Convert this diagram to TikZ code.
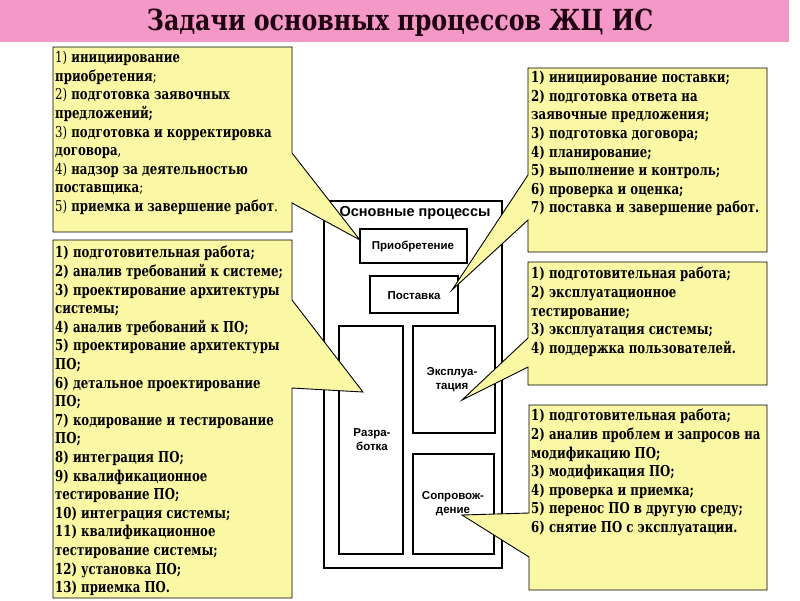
\documentclass[tikz,border=0pt]{standalone}
\usepackage{fontspec}
\setmainfont{DejaVu Serif Condensed}
\newfontfamily\arialf{Liberation Sans}
\newfontfamily\timesb{DejaVu Serif Condensed}[UprightFont={* Bold}, FakeStretch=0.87]
\newfontfamily\timesr{DejaVu Serif Condensed}[FakeStretch=0.87]
\newfontfamily\titlef{DejaVu Serif Condensed}[UprightFont={* Bold}, FakeStretch=0.91]
\definecolor{pinkbar}{RGB}{244,152,200}
\definecolor{yellowc}{RGB}{250,248,165}
\definecolor{titlecol}{RGB}{30,0,16}
\tikzset{
  callout/.style={fill=yellowc, draw=black, line width=0.9pt, line join=miter},
  listtext/.style={anchor=north west, inner sep=0pt, align=left,
     font=\timesb\fontsize{15}{18.6}\selectfont},
  frameline/.style={draw=black, line width=2.6pt},
  procbox/.style={draw=black, line width=2pt, fill=white},
  proclabel/.style={font=\arialf\bfseries\fontsize{11.5}{14}\selectfont, align=center, inner sep=0pt}
}
\begin{document}
\begin{tikzpicture}[x=1pt,y=-1pt]
\useasboundingbox (0,0) rectangle (800,600);
\fill[white] (0,0) rectangle (800,600);
% title
\fill[pinkbar] (0,0) rectangle (789,42);
\node[font=\titlef\fontsize{29}{29}\selectfont, text=titlecol, inner sep=0pt] (title) at (400,23) {Задачи основных процессов ЖЦ ИС};

% central diagram
\draw[frameline, fill=white] (324,201) rectangle (502,568);
\node[font=\arialf\bfseries\fontsize{14.5}{16}\selectfont, inner sep=0pt] (mainlbl) at (415,213) {Основные процессы};
\draw[procbox] (360,229) rectangle (467,263);
\node[proclabel] (acq) at (413,246) {Приобретение};
\draw[procbox] (370,276) rectangle (458,313);
\node[proclabel] (sup) at (414,296) {Поставка};
\draw[procbox] (339,326) rectangle (403,554);
\node[proclabel] (dev) at (372,440) {Разра-\\ботка};
\draw[procbox] (413,326) rectangle (495,433);
\node[proclabel] (ops) at (452,380) {Эксплуа-\\тация};
\draw[procbox] (413,454) rectangle (494,554);
\node[proclabel] (mnt) at (453,504) {Сопровож-\\дение};

% tip coordinates
\coordinate (tipA) at (360,240);
\coordinate (tipB) at (452,290);
\coordinate (tipC) at (363,392);
\coordinate (tipD) at (462,400);
\coordinate (tipE) at (462,515);

% callouts
\draw[callout] (53,47) -- (292,47) -- (292,153) -- (tipA) -- (292,203) -- (292,232) -- (53,232) -- cycle;
\draw[callout] (528,68) -- (767,68) -- (767,252) -- (528,252) -- (528,220) -- (tipB) -- (528,175) -- cycle;
\draw[callout] (53,240) -- (292,240) -- (292,300) -- (tipC) -- (292,388) -- (292,598) -- (53,598) -- cycle;
\draw[callout] (528,262) -- (767,262) -- (767,385) -- (528,385) -- (528,367) -- (tipD) -- (528,338) -- cycle;
\draw[callout] (529,405) -- (767,405) -- (767,590) -- (529,590) -- (529,557) -- (tipE) -- (529,513) -- cycle;

% texts
\node[listtext] (t1) at (55,51) {{\timesr 1)} инициирование\\приобретения{\timesr ;}\\{\timesr 2)} подготовка заявочных\\предложений;\\{\timesr 3)} подготовка и корректировка\\договора{\timesr ,}\\{\timesr 4)} надзор за деятельностью\\поставщика{\timesr ;}\\{\timesr 5)} приемка и завершение работ{\timesr .}};
\node[listtext] (t2) at (531,71) {1) инициирование поставки;\\2) подготовка ответа на\\заявочные предложения;\\3) подготовка договора;\\4) планирование;\\5) выполнение и контроль;\\6) проверка и оценка;\\7) поставка и завершение работ.};
\node[listtext] (t3) at (55,246) {1) подготовительная работа;\\2) аналив требований к системе;\\3) проектирование архитектуры\\системы;\\4) аналив требований к ПО;\\5) проектирование архитектуры\\ПО;\\6) детальное проектирование\\ПО;\\7) кодирование и тестирование\\ПО;\\8) интеграция ПО;\\9) квалификационное\\тестирование ПО;\\10) интеграция системы;\\11) квалификационное\\тестирование системы;\\12) установка ПО;\\13) приемка ПО.};
\node[listtext] (t4) at (531,267) {1) подготовительная работа;\\2) эксплуатационное\\тестирование;\\3) эксплуатация системы;\\4) поддержка пользователей.};
\node[listtext] (t5) at (531,409) {1) подготовительная работа;\\2) аналив проблем и запросов на\\модификацию ПО;\\3) модификация ПО;\\4) проверка и приемка;\\5) перенос ПО в другую среду;\\6) снятие ПО с эксплуатации.};
\end{tikzpicture}
\end{document}
